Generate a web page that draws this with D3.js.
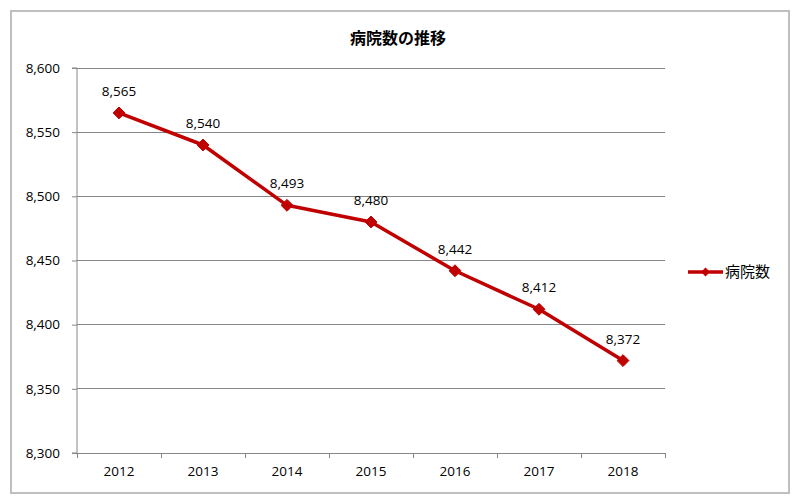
<!DOCTYPE html>
<html>
<head>
<meta charset="utf-8">
<script src="https://cdn.jsdelivr.net/npm/d3@7"></script>
<style>
  body { margin: 0; background: #fff; }
  text { font-family: 'Open Sans', 'Noto Sans CJK JP', sans-serif; fill: #000; }
</style>
</head>
<body>
<div id="chart"></div>
<script>
// --- Data ---
const years = ['2012', '2013', '2014', '2015', '2016', '2017', '2018'];
const hospitals = [8565, 8540, 8493, 8480, 8442, 8412, 8372];
const yTicks = [8300, 8350, 8400, 8450, 8500, 8550, 8600];
const seriesName = '病院数';
const chartTitle = '病院数の推移';

const W = 800, H = 502;
const margin = {top: 68, right: 135, bottom: 49, left: 77};
const width = W - margin.left - margin.right;
const height = H - margin.top - margin.bottom;
const red = '#C00000';

const svgEl = d3.select('#chart').append('svg')
    .attr('width', W).attr('height', H);

// Outer chart border
svgEl.append('rect')
    .attr('x', 11).attr('y', 11).attr('width', 778).attr('height', 482)
    .attr('fill', '#fff').attr('stroke', '#BFBFBF').attr('stroke-width', 2);

// Title
svgEl.append('text')
    .attr('x', 398).attr('y', 44)
    .attr('text-anchor', 'middle')
    .style('font-family', "'Noto Sans CJK JP', sans-serif")
    .style('font-size', '16px').style('font-weight', '700')
    .text(chartTitle);

const svg = svgEl.append('g')
    .attr('transform', `translate(${margin.left},${margin.top})`);

const x = d3.scaleBand().domain(years).range([0, width]);
const y = d3.scaleLinear().domain([8300, 8600]).range([height, 0]);

// Gridlines
svg.selectAll('.grid').data(yTicks.slice(1)).enter().append('line')
    .attr('x1', 0).attr('x2', width)
    .attr('y1', d => y(d)).attr('y2', d => y(d))
    .attr('stroke', '#868686').attr('stroke-width', 1)
    .attr('shape-rendering', 'crispEdges');

// Y axis
const yAxis = svg.append('g')
    .call(d3.axisLeft(y).tickValues(yTicks).tickSize(5).tickPadding(12)
        .tickFormat(d3.format(',')));
yAxis.select('.domain').attr('stroke', '#868686').attr('d', `M-5,${height}H0V0H-5`);
yAxis.selectAll('.tick line').attr('stroke', '#868686');
yAxis.selectAll('.tick text').style('font-size', '13.5px');

// X axis with ticks at band boundaries
const xAxis = svg.append('g').attr('transform', `translate(0,${height})`);
xAxis.append('line').attr('x1', 0).attr('x2', width)
    .attr('stroke', '#868686').attr('shape-rendering', 'crispEdges');
const bounds = years.map(d => x(d)).concat([width]);
xAxis.selectAll('.xtick').data(bounds).enter().append('line')
    .attr('x1', d => d).attr('x2', d => d).attr('y1', 0).attr('y2', 5)
    .attr('stroke', '#868686').attr('shape-rendering', 'crispEdges');
xAxis.selectAll('.xlabel').data(years).enter().append('text')
    .attr('x', d => x(d) + x.bandwidth() / 2).attr('y', 23)
    .attr('text-anchor', 'middle')
    .style('font-size', '13.5px')
    .text(d => d);

// Line
const cx = (d, i) => x(years[i]) + x.bandwidth() / 2;
const line = d3.line().x(cx).y(d => y(d));
svg.append('path').datum(hospitals)
    .attr('d', line)
    .attr('fill', 'none').attr('stroke', red).attr('stroke-width', 3.5)
    .attr('stroke-linejoin', 'round');

// Diamond markers
const diamond = d3.symbol().type(d3.symbolDiamond2).size(90);
svg.selectAll('.marker').data(hospitals).enter().append('path')
    .attr('d', diamond)
    .attr('transform', (d, i) => `translate(${cx(d, i)},${y(d)})`)
    .attr('fill', red).attr('stroke', red);

// Data labels
svg.selectAll('.dlabel').data(hospitals).enter().append('text')
    .attr('x', (d, i) => cx(d, i)).attr('y', d => y(d) - 17)
    .attr('text-anchor', 'middle')
    .style('font-size', '13.5px')
    .text(d => d3.format(',')(d));

// Legend
const lg = svgEl.append('g').attr('transform', 'translate(688,272)');
lg.append('line').attr('x1', 0).attr('x2', 35)
    .attr('stroke', red).attr('stroke-width', 3.5);
lg.append('path').attr('d', d3.symbol().type(d3.symbolDiamond2).size(50))
    .attr('transform', 'translate(17.5,0)')
    .attr('fill', red);
lg.append('text').attr('x', 37).attr('y', 5)
    .style('font-family', "'Noto Sans CJK JP', sans-serif")
    .style('font-size', '15px')
    .text(seriesName);
</script>
</body>
</html>
